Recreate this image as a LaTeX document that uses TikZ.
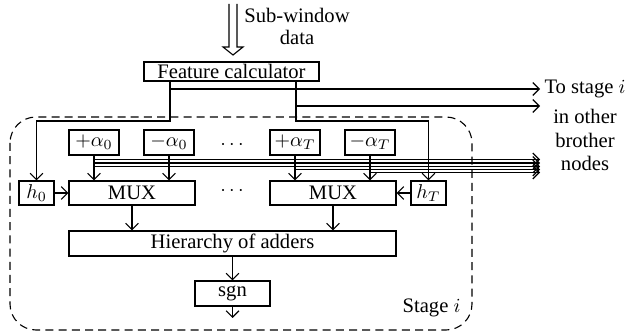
\documentclass[tikz,border=0pt]{standalone}
\usepackage{fontspec}
\setmainfont{Liberation Serif}
\usetikzlibrary{arrows.meta}
\begin{document}
\begin{tikzpicture}[x=0.5pt,y=-0.5pt,
  line width=0.55pt,
  font=\fontsize{10.3pt}{12.5pt}\selectfont,
  box/.style={draw, inner sep=0pt, minimum height=12.5pt},
  arr/.style={-{Straight Barb[length=3.2pt,width=6.4pt]}},
  stagebox/.style={draw, dash pattern=on 4pt off 2.6pt, rounded corners=13pt}]
\useasboundingbox (0,0) rectangle (627,336);

% feature calculator and its input
\node[box, minimum width=87.5pt, minimum height=9.5pt] (feat) at (231.5,71.5) {Feature calculator};
\coordinate (inA) at (229,4);
\draw (inA) -- (229,47) -- (223,47) -- (233,55) -- (243,47) -- (237,47) -- (237,4);
\node[align=center, inner sep=0pt] (sub) at (297,26) {Sub-window\\[-1.5pt]data};

% stage boundary
\draw[stagebox] (10,117) rectangle (472,330);
\node[anchor=east, inner sep=0pt] (stage) at (461,308) {Stage $i$};

% coefficient boxes
\node[box, minimum width=25pt] (pa0) at (94,142.5) {$+\alpha_0$};
\node[box, minimum width=25pt] (ma0) at (169,142.5) {$-\alpha_0$};
\node (d1) at (232,145) {$\cdots$};
\node[box, minimum width=25pt] (paT) at (295,142.5) {$+\alpha_T$};
\node[box, minimum width=25pt] (maT) at (370,142.5) {$-\alpha_T$};

% multiplexers and weak classifiers
\node[box, minimum width=17.5pt, minimum height=12pt] (h0) at (36.5,193) {$h_0$};
\node[box, minimum width=63pt, minimum height=12pt] (mux0) at (132,193) {MUX};
\node (d2) at (232,191) {$\cdots$};
\node[box, minimum width=63pt, minimum height=12pt] (muxT) at (333,193) {MUX};
\node[box, minimum width=17.5pt, minimum height=12pt] (hT) at (428.5,193) {$h_T$};

% adders and sign
\node[box, minimum width=163.5pt] (add) at (232.5,243.5) {Hierarchy of adders};
\node[box, minimum width=37.5pt] (sgn) at (232.5,293.5) {sgn};
\coordinate (out) at (232.5,318);

% right-hand labels
\node[anchor=west, inner sep=0pt] (to) at (544,89) {To stage $i$};
\node[inner sep=0pt] (l2) at (585,116) {in other};
\node[inner sep=0pt] (l3) at (585,140) {brother};
\node[inner sep=0pt] (l4) at (585,163) {nodes};

% feature outputs
\coordinate (fa) at (170,81);
\coordinate (fb) at (296,81);
\draw[arr] (fa) -- (170,121) -- (h0.north |- 0,121) -- (h0.north);
\draw[arr] (fb) -- (296,121) -- (hT.north |- 0,121) -- (hT.north);
\draw[arr] (170,89) -- (540,89);
\draw[arr] (296,106) -- (540,106);

% coefficient lines to multiplexers
\draw[arr] (pa0.south) -- (pa0.south |- mux0.north);
\draw[arr] (ma0.south) -- (ma0.south |- mux0.north);
\draw[arr] (paT.south) -- (paT.south |- muxT.north);
\draw[arr] (maT.south) -- (maT.south |- muxT.north);

% shared bus to the brother nodes
\draw[arr] (94,159.5) -- (540,159.5);
\draw[arr] (94,163) -- (540,163);
\draw[arr] (94,166.5) -- (540,166.5);
\draw[arr] (295,169.5) -- (540,169.5);
\draw[arr] (370,172.5) -- (540,172.5);

% selector inputs
\draw[arr] (h0) -- (mux0);
\draw[arr] (hT) -- (muxT);

% down the datapath
\draw[arr] (mux0.south) -- (mux0.south |- add.north);
\draw[arr] (muxT.south) -- (muxT.south |- add.north);
\draw[arr] (add) -- (sgn);
\draw[arr] (sgn) -- (out);
\end{tikzpicture}
\end{document}
